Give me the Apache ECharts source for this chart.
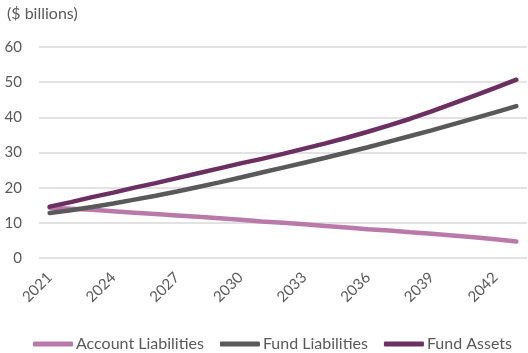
<!DOCTYPE html>
<html>
<head>
<meta charset="utf-8">
<style>
  html, body { margin: 0; padding: 0; background: #fff; }
  #chart { width: 528px; height: 353px; }
</style>
<script src="https://cdn.jsdelivr.net/npm/echarts@6/dist/echarts.min.js"></script>
</head>
<body>
<div id="chart"></div>
<script>
// years on the x axis
var years = [];
for (var y = 2021; y <= 2043; y++) years.push(String(y));

// values ($ billions)
var accountLiabilities = [14.3, 14.0, 13.7, 13.3, 12.9, 12.5, 12.1, 11.7, 11.3, 10.9, 10.4, 10.0,
  9.6, 9.1, 8.7, 8.2, 7.8, 7.3, 6.9, 6.4, 5.9, 5.3, 4.7];
var fundLiabilities = [12.8, 13.6, 14.5, 15.5, 16.6, 17.7, 18.9, 20.2, 21.5, 22.9, 24.3, 25.7,
  27.1, 28.5, 30.0, 31.5, 33.1, 34.7, 36.3, 38.0, 39.7, 41.4, 43.2];
var fundAssets = [14.6, 15.9, 17.3, 18.6, 20.0, 21.3, 22.7, 24.1, 25.5, 26.9, 28.2, 29.6,
  31.1, 32.6, 34.2, 35.9, 37.7, 39.6, 41.7, 43.9, 46.1, 48.4, 50.7];

var seriesNames = ['Account Liabilities', 'Fund Liabilities', 'Fund Assets'];
var colors = ['#B97AA9', '#595959', '#6B3061'];

var chart = echarts.init(document.getElementById('chart'));

function lineSeries(name, data, color) {
  return {
    name: name,
    type: 'line',
    data: data,
    symbol: 'none',
    lineStyle: { width: 4.5, color: color, cap: 'round' },
    itemStyle: { color: color }
  };
}

var option = {
  animation: false,
  textStyle: { fontFamily: 'Lato' },
  title: {
    text: '($ billions)',
    left: 2,
    top: 1,
    textStyle: { fontSize: 16, fontWeight: 'normal', color: '#595959', fontFamily: 'Lato' }
  },
  legend: {
    data: seriesNames,
    top: 331,
    left: 28,
    icon: 'roundRect',
    itemWidth: 40,
    itemHeight: 5,
    itemGap: 16,
    textStyle: { fontSize: 16, color: '#595959', fontFamily: 'Lato', padding: [0, 0, 0, -2] }
  },
  grid: { left: 39, right: 1, top: 47, bottom: 95 },
  xAxis: {
    type: 'category',
    data: years,
    boundaryGap: true,
    axisLine: { show: false },
    axisTick: { show: false },
    axisLabel: { interval: 2, rotate: 45, fontSize: 15, color: '#595959', margin: 17, fontFamily: 'Lato' }
  },
  yAxis: {
    type: 'value',
    min: 0,
    max: 60,
    interval: 10,
    axisLine: { show: false },
    axisTick: { show: false },
    axisLabel: { fontSize: 15, color: '#595959', margin: 17, fontFamily: 'Lato' },
    splitLine: { lineStyle: { color: '#D9D9D9', width: 1.5 } }
  },
  series: [
    lineSeries(seriesNames[0], accountLiabilities, colors[0]),
    lineSeries(seriesNames[1], fundLiabilities, colors[1]),
    lineSeries(seriesNames[2], fundAssets, colors[2])
  ]
};

chart.setOption(option);
</script>
</body>
</html>
